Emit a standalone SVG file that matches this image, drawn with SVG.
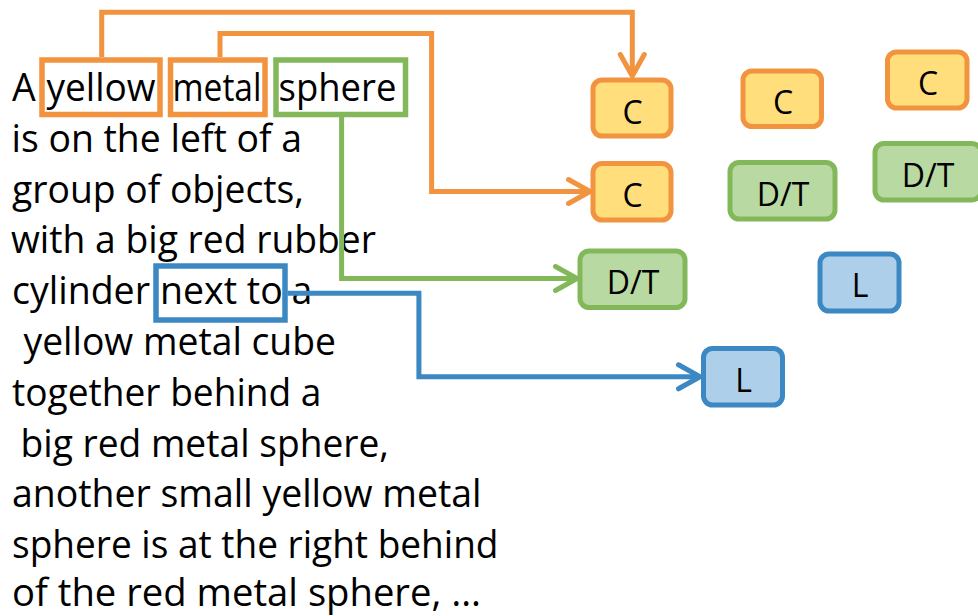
<svg xmlns="http://www.w3.org/2000/svg" width="978" height="616" viewBox="0 0 978 616">
  <style>
    .sent { font-family: "Open Sans", "Noto Sans", "Liberation Sans", sans-serif; font-size: 37.5px; fill: #000; }
    .lbl { font-family: "Open Sans", "Noto Sans", "Liberation Sans", sans-serif; font-size: 32px; fill: #000; text-anchor: middle; }
    .hl { fill: none; stroke-width: 5.5; }
    .node { stroke-width: 5; }
    .conn { fill: none; stroke-width: 5; stroke-linejoin: miter; }
    .orange { stroke: #F2933F; }
    .green { stroke: #82B85A; }
    .blue { stroke: #3B88C3; }
    .cfill { fill: #FFDE7B; }
    .gfill { fill: #B8D9A2; }
    .bfill { fill: #AECFEA; }
  </style>
  <defs>
    <marker id="arr-orange" markerUnits="userSpaceOnUse" markerWidth="40" markerHeight="40" viewBox="-30 -20 40 40" refX="0" refY="0" orient="auto" overflow="visible">
      <path d="M-21.5,-12 L0,0 L-21.5,12" fill="none" stroke="#F2933F" stroke-width="5" stroke-linecap="round" stroke-linejoin="round"/>
    </marker>
    <marker id="arr-green" markerUnits="userSpaceOnUse" markerWidth="40" markerHeight="40" viewBox="-30 -20 40 40" refX="0" refY="0" orient="auto" overflow="visible">
      <path d="M-21.5,-12 L0,0 L-21.5,12" fill="none" stroke="#82B85A" stroke-width="5" stroke-linecap="round" stroke-linejoin="round"/>
    </marker>
    <marker id="arr-blue" markerUnits="userSpaceOnUse" markerWidth="40" markerHeight="40" viewBox="-30 -20 40 40" refX="0" refY="0" orient="auto" overflow="visible">
      <path d="M-21.5,-12 L0,0 L-21.5,12" fill="none" stroke="#3B88C3" stroke-width="5" stroke-linecap="round" stroke-linejoin="round"/>
    </marker>
  </defs>

  <rect x="0" y="0" width="978" height="616" fill="#FFFFFF"/>

  <!-- sentence text -->
  <g id="sentence" class="sent">
    <text x="12" y="101">A</text>
    <text x="46.5" y="101" textLength="109" lengthAdjust="spacingAndGlyphs">yellow</text>
    <text x="172.5" y="101" textLength="89" lengthAdjust="spacingAndGlyphs">metal</text>
    <text x="278.5" y="101" textLength="118" lengthAdjust="spacingAndGlyphs">sphere</text>
    <text x="11.5" y="151.8" textLength="290.5" lengthAdjust="spacingAndGlyphs">is on the left of a</text>
    <text x="12" y="202.6" textLength="292" lengthAdjust="spacingAndGlyphs">group of objects,</text>
    <text x="11" y="253.4" textLength="365" lengthAdjust="spacingAndGlyphs">with a big red rubber</text>
    <text y="304.2"><tspan x="12">cylinder</tspan> <tspan x="160">next to</tspan> <tspan x="291.5">a</tspan></text>
    <text x="23.5" y="355" textLength="312.5" lengthAdjust="spacingAndGlyphs">yellow metal cube</text>
    <text x="12" y="405.8" textLength="309.5" lengthAdjust="spacingAndGlyphs">together behind a</text>
    <text x="20.5" y="456.6" textLength="368.5" lengthAdjust="spacingAndGlyphs">big red metal sphere,</text>
    <text x="12" y="507.4" textLength="469.5" lengthAdjust="spacingAndGlyphs">another small yellow metal</text>
    <text x="12" y="558.2" textLength="486.5" lengthAdjust="spacingAndGlyphs">sphere is at the right behind</text>
    <text x="12" y="606" textLength="469" lengthAdjust="spacingAndGlyphs">of the red metal sphere, …</text>
  </g>

  <!-- highlighted words -->
  <g id="highlights">
    <rect class="hl orange" x="42" y="60" width="118" height="54.5"/>
    <rect class="hl orange" x="170.5" y="60" width="94.5" height="54.5"/>
    <rect class="hl green" x="276" y="60" width="129.5" height="54.5"/>
    <rect class="hl blue" x="156" y="266" width="129" height="54"/>
  </g>

  <!-- connectors -->
  <g id="connectors">
    <path class="conn orange" d="M101.7,57 V12.3 H632.3 V76" marker-end="url(#arr-orange)"/>
    <path class="conn orange" d="M220,57 V33.4 H431.6 V191.5 H590" marker-end="url(#arr-orange)"/>
    <path class="conn green" d="M341.6,117 V278.5 H577" marker-end="url(#arr-green)"/>
    <path class="conn blue" d="M287.5,293.3 H418.9 V376.8 H700" marker-end="url(#arr-blue)"/>
  </g>

  <!-- nodes -->
  <g id="c1">
    <rect class="node orange cfill" x="593" y="80" width="78" height="56" rx="9"/>
    <text class="lbl" x="632.5" y="123.5">C</text>
  </g>
  <g id="c2">
    <rect class="node orange cfill" x="743" y="71" width="78.5" height="55.5" rx="9"/>
    <text class="lbl" x="783" y="114">C</text>
  </g>
  <g id="c3">
    <rect class="node orange cfill" x="887.5" y="52" width="79.5" height="56" rx="9"/>
    <text class="lbl" x="928" y="95">C</text>
  </g>
  <g id="c4">
    <rect class="node orange cfill" x="593" y="163.5" width="78" height="56.5" rx="9"/>
    <text class="lbl" x="632.5" y="206.7">C</text>
  </g>
  <g id="dt1">
    <rect class="node green gfill" x="730" y="162.5" width="105" height="56.5" rx="9"/>
    <text class="lbl" x="783" y="205.7">D/T</text>
  </g>
  <g id="dt2">
    <rect class="node green gfill" x="875" y="143.5" width="106" height="56.5" rx="9"/>
    <text class="lbl" x="928" y="186.7">D/T</text>
  </g>
  <g id="dt3">
    <rect class="node green gfill" x="580" y="251" width="105" height="56.5" rx="9"/>
    <text class="lbl" x="633" y="293.5">D/T</text>
  </g>
  <g id="l1">
    <rect class="node blue bfill" x="820" y="254" width="79" height="57" rx="9"/>
    <text class="lbl" x="860" y="296.7">L</text>
  </g>
  <g id="l2">
    <rect class="node blue bfill" x="703.5" y="348.5" width="79" height="56.5" rx="9"/>
    <text class="lbl" x="743.5" y="391.7">L</text>
  </g>
</svg>
